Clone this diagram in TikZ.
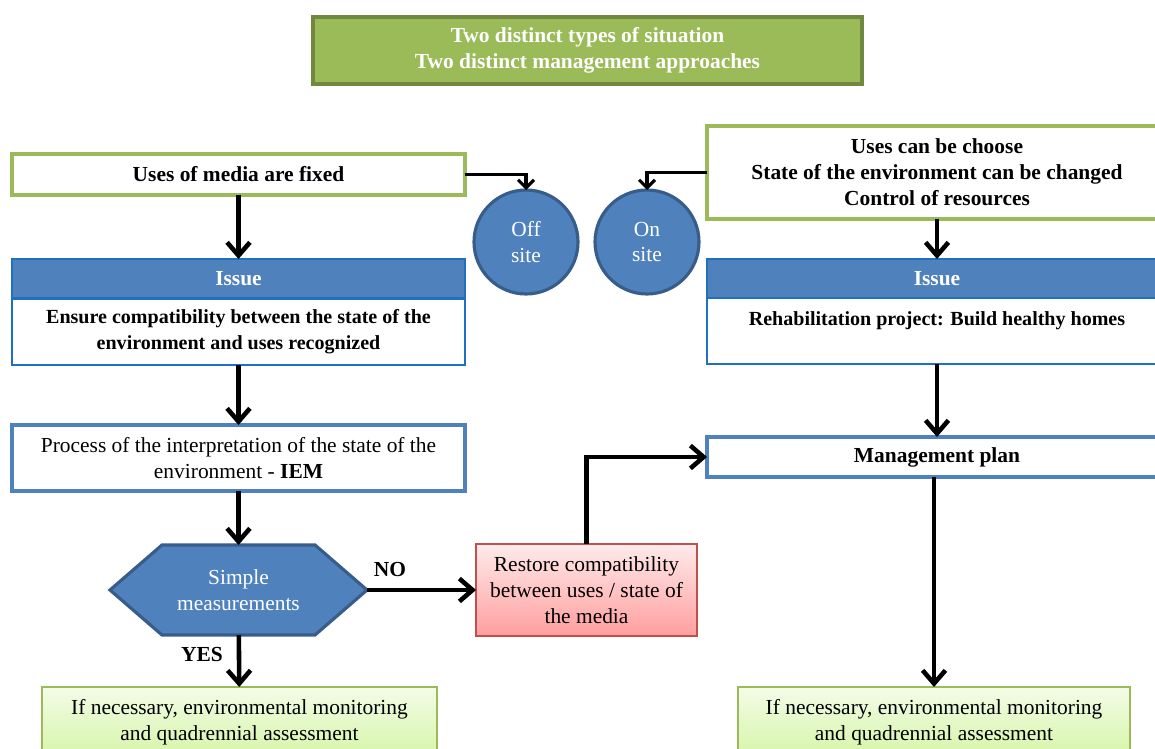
\documentclass[tikz,border=0pt]{standalone}
\usepackage{fontspec}
\setmainfont{Liberation Serif}
\usetikzlibrary{arrows.meta,positioning}

\definecolor{grnfill}{HTML}{9BBB59}
\definecolor{grnline}{HTML}{71893F}
\definecolor{bluefill}{HTML}{4F81BD}
\definecolor{blueline}{HTML}{385D8A}
\definecolor{issueline}{HTML}{1F70C1}
\definecolor{redline}{HTML}{C0504D}
\definecolor{montop}{HTML}{F3FCE8}
\definecolor{monbot}{HTML}{D6F5A8}

\tikzset{
  box/.style={rectangle, outer sep=0pt, inner sep=2pt, align=center, fill=white},
  usebox/.style={box, draw=grnfill, line width=1.8pt, font=\bfseries},
  headbox/.style={box, fill=bluefill, draw=issueline, line width=1.5pt, text=white, font=\bfseries},
  bodybox/.style={box, draw=issueline, line width=1.5pt, font=\fontsize{11.4}{14.7}\selectfont\bfseries},
  stepbox/.style={box, draw=bluefill, line width=1.8pt},
  sitecirc/.style={circle, outer sep=0pt, minimum size=2.08cm, fill=bluefill, draw=blueline, line width=1.8pt, text=white, align=center},
  monbox/.style={box, draw=grnfill, line width=1.3pt, top color=montop, bottom color=monbot, minimum height=1.4cm},
  flow/.style={-{Straight Barb[length=7.5pt,width=13pt]}, line width=2.6pt},
  smallflow/.style={-{Straight Barb[length=4.5pt,width=9pt]}, line width=1.8pt}
}

\begin{document}
\fontsize{12.2}{14.7}\selectfont
\begin{tikzpicture}[x=0.02cm, y=-0.02cm]
        \useasboundingbox (0, 0) rectangle (1155, 749);

        % Title
        \node[box, fill=grnfill, draw=grnline, line width=2.5pt, text=white, font=\bfseries,
              minimum width=10.98cm, minimum height=1.34cm] (title) at (587.5, 50.5)
              {Two distinct types of situation\\Two distinct management approaches};

        % Starting situations
        \node[usebox, minimum width=9.06cm, minimum height=0.82cm] (fixed) at (238.5, 174.5) {Uses of media are fixed};
        \node[usebox, minimum width=9.2cm, minimum height=1.86cm] (choose) at (937, 172.5)
              {Uses can be choose\\State of the environment can be changed\\Control of resources};

        % Sites
        \node[sitecirc] (offsite) at (526, 242) {Off\\site};
        \node[sitecirc] (onsite) at (647, 242) {On\\site};
        \draw[smallflow] (fixed.east) -| (offsite.north);
        \draw[smallflow] (choose.west) -| (onsite.north);

        % Issues
        \node[headbox, minimum width=9.06cm, minimum height=0.78cm] (issueL) at (238.5, 278.5) {Issue};
        \node[bodybox, minimum width=9.06cm, minimum height=1.32cm] (ensure) at (238.5, 332)
              {Ensure compatibility between the state of the\\environment and uses recognized};
        \node[headbox, minimum width=9.2cm, minimum height=0.78cm] (issueR) at (937, 278.5) {Issue};
        \node[bodybox, minimum width=9.2cm, minimum height=1.32cm] (rehab) at (937, 331)
              {\raisebox{0.1cm}[0pt][0pt]{Rehabilitation project: Build healthy homes}};
        \draw[flow] (fixed) -- (issueL);
        \draw[flow] (choose) -- (issueR);

        % Interpretation and plan
        \node[stepbox, minimum width=9.06cm, minimum height=1.32cm] (interp) at (238.5, 458)
              {Process of the interpretation of the state of the\\environment - \textbf{IEM}};
        \node[stepbox, minimum width=9.2cm, minimum height=0.8cm, font=\bfseries] (plan) at (937, 457) {Management plan};
        \draw[flow] (ensure) -- (interp);
        \draw[flow] (rehab) -- (plan);

        % Decision
        \coordinate (hexc) at (238.5, 590);
        \filldraw[fill=bluefill, draw=blueline, line width=1.8pt]
              (110, 590) -- ++(52, -45) -- ++(153, 0) -- ++(52, 45) -- ++(-52, 45) -- ++(-153, 0) -- cycle;
        \node[rectangle, outer sep=0pt, minimum width=5.14cm, minimum height=1.8cm, text=white, align=center] (measure) at (hexc)
              {Simple\\measurements};
        \draw[flow] (interp) -- (measure);

        \node[box, draw=redline, line width=1.3pt, top color=red!8!white, bottom color=red!38!white,
              minimum width=4.42cm, minimum height=1.84cm] (restore) at (586.5, 590)
              {Restore compatibility\\between uses / state of\\the media};
        \node[font=\bfseries] (nolbl) at (390, 570) {NO};
        \draw[flow] (measure) -- (restore);
        \draw[flow] (restore.north) |- (plan.west);

        % Monitoring
        \node[font=\bfseries] (yeslbl) at (202, 655) {YES};
        \node[monbox, minimum width=7.9cm] (monL) at (239.5, 722)
              {If necessary, environmental monitoring\\and quadrennial assessment};
        \node[monbox, minimum width=7.84cm] (monR) at (934, 722)
              {If necessary, environmental monitoring\\and quadrennial assessment};
        \draw[flow] (measure) -- (monL);
        \draw[flow] (plan.south -| monR) -- (monR);

\end{tikzpicture}
\end{document}
